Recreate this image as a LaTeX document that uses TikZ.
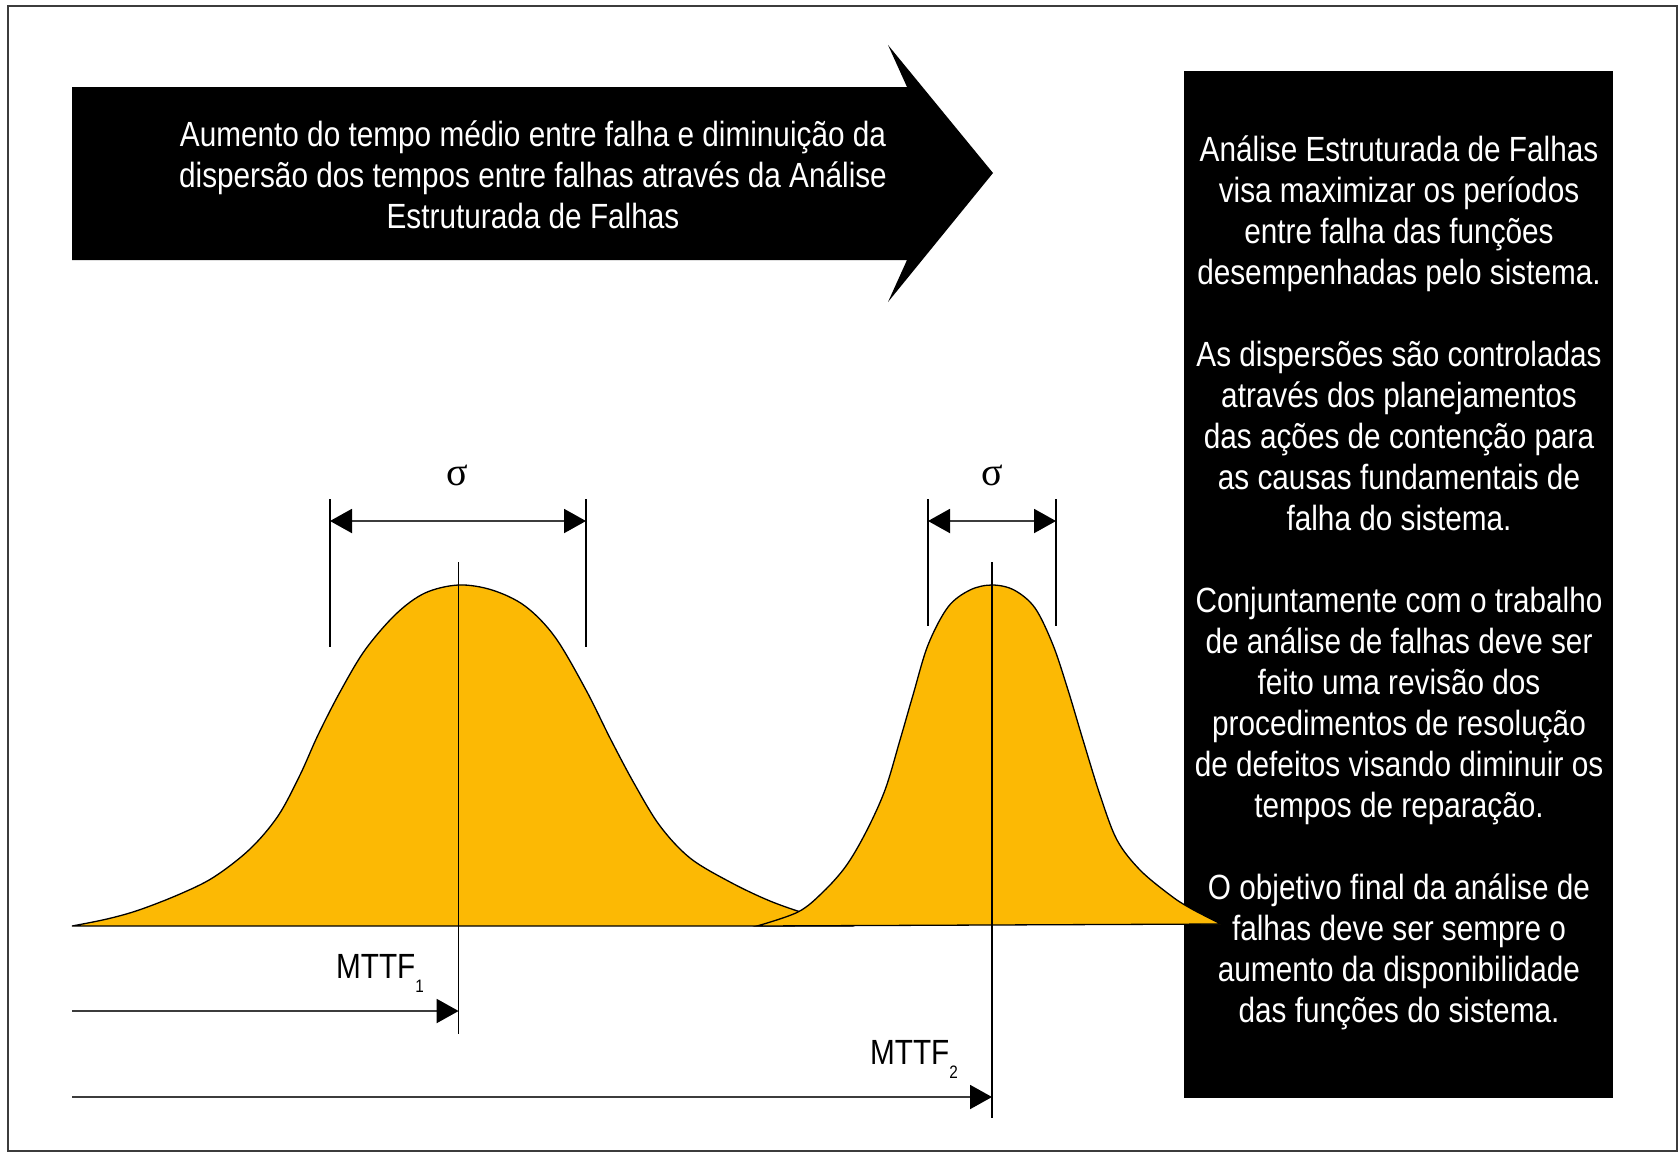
\documentclass[tikz,border=0pt]{standalone}
\usepackage{fontspec}
\setmainfont{Liberation Sans}
\newfontfamily\narrowfont[FakeStretch=0.85]{Liberation Sans}
\newfontfamily\greekserif{Liberation Serif}
\usetikzlibrary{arrows.meta}
\definecolor{bellyellow}{RGB}{252,185,4}
\definecolor{linegray}{RGB}{60,60,60}
\begin{document}
\begin{tikzpicture}[x=1pt,y=-1pt,
  whitetext/.style={text=white, font=\narrowfont\fontsize{35}{41}\selectfont, align=center, inner sep=0pt},
  labeltext/.style={text=black, font=\narrowfont\fontsize{35}{41}\selectfont, inner sep=0pt},
  sigmatext/.style={text=black, font=\greekserif\fontsize{40}{40}\selectfont, inner sep=0pt},
  bell/.style={fill=bellyellow, draw=black, line width=1.3pt},
  guide/.style={draw=black, line width=1.2pt},
  dimboth/.style={draw=linegray, line width=2pt, {Triangle[length=22pt,width=24pt,color=black]}-{Triangle[length=22pt,width=24pt,color=black]}},
  dimone/.style={draw=linegray, line width=2pt, -{Triangle[length=22pt,width=24pt,color=black]}}
]
\useasboundingbox (0,0) rectangle (1680,1156);
\draw[draw=linegray, line width=1.5pt] (8,6) rectangle (1677,1151);

% big arrow
\fill[black] (72,87) -- (907,87) -- (888,45) -- (993,173) -- (888,302) -- (907,260) -- (72,260) -- cycle;
\node[whitetext] (arrowtext) at (533,175) {Aumento do tempo médio entre falha e diminuição da\\dispersão dos tempos entre falhas através da Análise\\Estruturada de Falhas};

% black text box
\fill[black] (1184,71) rectangle (1613,1098);
\node[whitetext] (boxtext) at (1399,583) {Análise Estruturada de Falhas\\visa maximizar os períodos\\entre falha das funções\\desempenhadas pelo sistema.\\[41pt]As dispersões são controladas\\através dos planejamentos\\das ações de contenção para\\as causas fundamentais de\\falha do sistema.\\[41pt]Conjuntamente com o trabalho\\de análise de falhas deve ser\\feito uma revisão dos\\procedimentos de resolução\\de defeitos visando diminuir os\\tempos de reparação.\\[41pt]O objetivo final da análise de\\falhas deve ser sempre o\\aumento da disponibilidade\\das funções do sistema.};

% bell curves
\path[bell] plot[smooth, tension=0.55] coordinates {(72,926) (107,919) (139,910) (180,894) (214,877) (250,849) (278,816) (300,775) (318,735) (340,692) (365,650) (396,614) (425,593) (458.6,585) (492,590) (525,606) (555,637) (586,690) (611,740) (635,785) (660,826) (690,858) (730,882) (770,901) (810,915) (850,926)} -- cycle;
\path[bell] plot[smooth, tension=0.55] coordinates {(757,926) (798,912) (823,892) (846,866) (866,832) (885,790) (900,740) (913,695) (928,645) (948,607) (970,590) (992,585) (1014,590) (1035,608) (1053,645) (1068,690) (1083,740) (1100,795) (1117,840) (1140,870) (1170,895) (1190,908) (1221,924)} -- cycle;

% guide lines and coordinates
\coordinate (p1top) at (458.6,562);
\coordinate (p1bot) at (458.6,1034);
\coordinate (p2top) at (992,562);
\coordinate (p2bot) at (992,1118);
\draw[guide] (p1top) -- (p1bot);
\draw[guide] (p2top) -- (p2bot);

\coordinate (b1la) at (330,499); \coordinate (b1lb) at (330,647);
\coordinate (b1ra) at (586,499); \coordinate (b1rb) at (586,647);
\coordinate (b2la) at (928,499); \coordinate (b2lb) at (928,626);
\coordinate (b2ra) at (1056,499); \coordinate (b2rb) at (1056,626);
\draw[guide] (b1la) -- (b1lb);
\draw[guide] (b1ra) -- (b1rb);
\draw[guide] (b2la) -- (b2lb);
\draw[guide] (b2ra) -- (b2rb);

\coordinate (d1l) at (330,521); \coordinate (d1r) at (586,521);
\coordinate (d2l) at (928,521); \coordinate (d2r) at (1056,521);
\draw[dimboth] (d1l) -- (d1r);
\draw[dimboth] (d2l) -- (d2r);

\node[sigmatext] (sig1) at (457,475) {σ};
\node[sigmatext] (sig2) at (992,475) {σ};

% MTTF arrows
\coordinate (m1start) at (72,1011);
\coordinate (m1end) at (458.6,1011);
\coordinate (m2start) at (72,1097);
\coordinate (m2end) at (992,1097);
\draw[dimone] (m1start) -- (m1end);
\draw[dimone] (m2start) -- (m2end);

\node[labeltext] (mttf1) at (380,973) {MTTF\raisebox{-0.4em}{\fontsize{18}{18}\selectfont 1}};
\node[labeltext] (mttf2) at (914,1059) {MTTF\raisebox{-0.4em}{\fontsize{18}{18}\selectfont 2}};
\end{tikzpicture}
\end{document}
